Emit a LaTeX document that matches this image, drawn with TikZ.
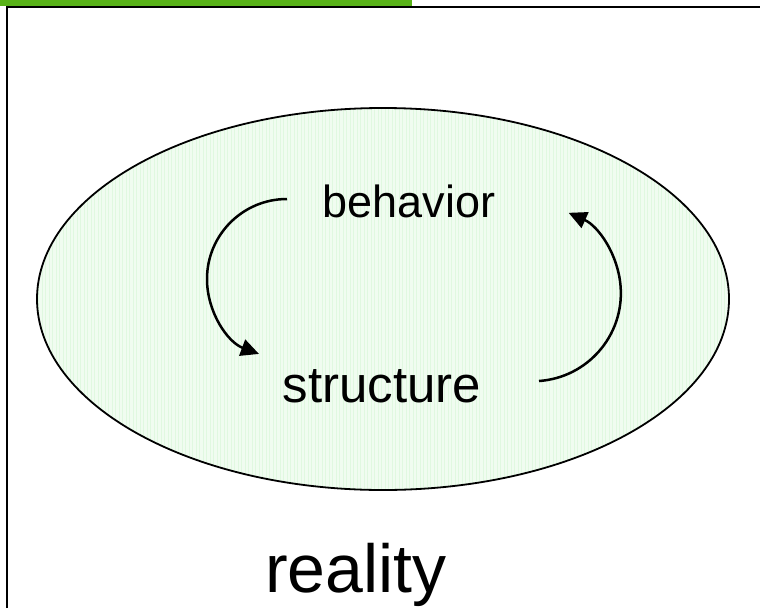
\documentclass[tikz,border=0pt]{standalone}
\usepackage{fontspec}
\setmainfont{Liberation Sans}
\usetikzlibrary{arrows.meta}
\definecolor{barGreen}{RGB}{88,178,24}
\definecolor{ellFill}{RGB}{240,252,240}
\definecolor{gridGreen}{RGB}{224,248,224}
\tikzset{
  framel/.style={line width=2.6pt, draw=black},
  ellipseline/.style={line width=1.8pt, draw=black},
  cyclearrow/.style={line width=2.5pt, -{Triangle[length=18pt,width=17pt]}},
  lbl/.style={inner sep=0pt, text=black, anchor=base}
}
\begin{document}
\begin{tikzpicture}[x=1pt,y=-1pt]
\useasboundingbox (0,0) rectangle (760,608);
\fill[white] (0,0) rectangle (760,608);
% top green bar
\fill[barGreen] (0,0) rectangle (412,6);
% frame lines
\coordinate (tl) at (7,7);
\coordinate (tr) at (760,7);
\coordinate (bl) at (7,608);
\draw[framel] (bl) -- (tl) -- (tr);
% ellipse
\coordinate (ec) at (383,299);
\begin{scope}
  \clip (ec) ellipse [x radius=346, y radius=191];
  \fill[ellFill] (ec) ellipse [x radius=346, y radius=191];
  \draw[gridGreen, line width=0.5pt] (30,100) grid[step=3.5] (740,500);
\end{scope}
\draw[ellipseline] (ec) ellipse [x radius=346, y radius=191];
% texts
\node[lbl, font=\fontsize{45}{45}\selectfont] (beh) at (409,217) {behavior};
\node[lbl, font=\fontsize{51}{51}\selectfont] (str) at (382,402) {structure};
\node[lbl, font=\fontsize{68}{68}\selectfont] (real) at (356,592) {reality};
% arrows
\coordinate (a1s) at (287,199);
\coordinate (a2s) at (539,381);
\draw[cyclearrow] (a1s) arc[start angle=-90, end angle=-249.5, radius=80];
\draw[cyclearrow] (a2s) arc[start angle=86, end angle=-66, radius=88];
\end{tikzpicture}
\end{document}
